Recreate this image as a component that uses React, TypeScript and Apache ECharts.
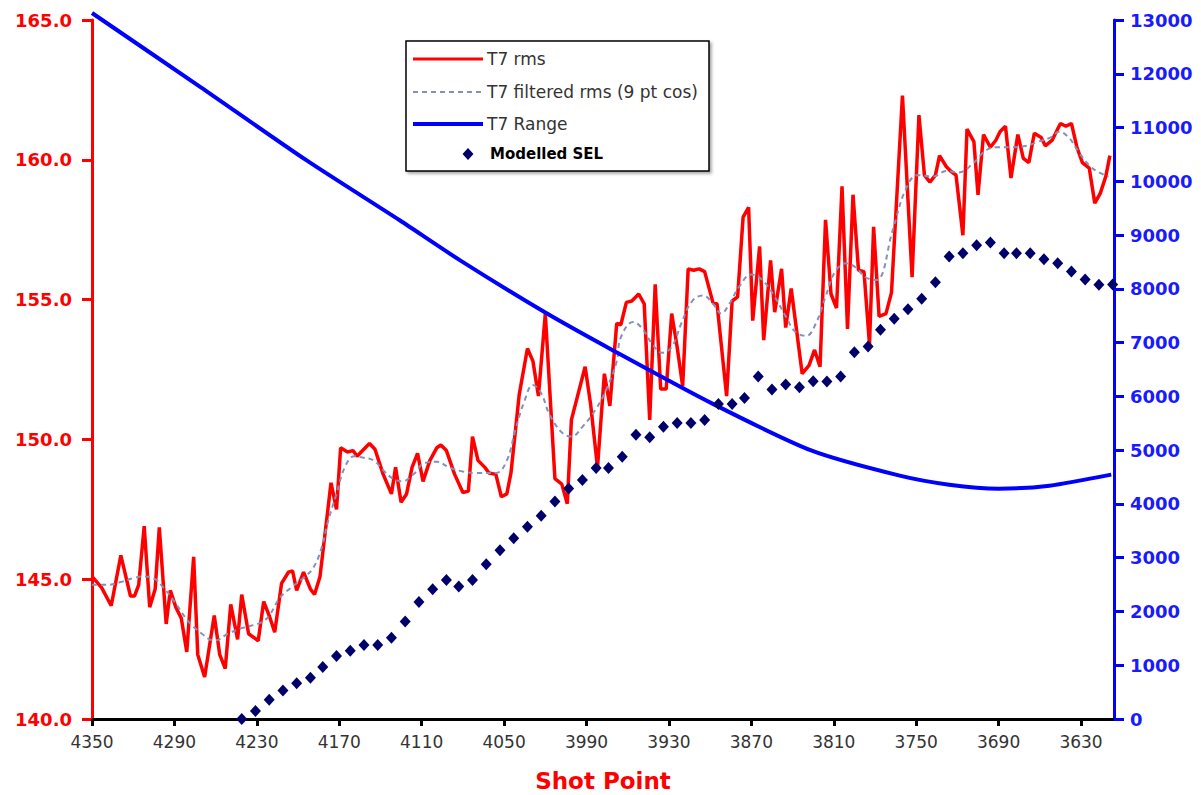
import React, { useEffect, useRef } from 'react';
import * as echarts from 'echarts';

// X-axis tick labels (shot points)
const xTicks = [4350, 4290, 4230, 4170, 4110, 4050, 3990, 3930, 3870, 3810, 3750, 3690, 3630];

// Legend entries
const legendNames = ['T7 rms', 'T7 filtered rms (9 pt cos)', 'T7 Range', 'Modelled SEL'];

// T7 rms: [shot point, dB]
const rmsData: [number, number][] = [
  [4350, 145.1], [4343, 144.7], [4336, 144.05], [4329, 145.85], [4322, 144.4], [4319, 144.4], [4316, 144.8],
  [4312, 146.9], [4308, 144.0], [4304, 144.65], [4301, 146.85], [4296, 143.4], [4293, 144.6], [4289, 144.0],
  [4285, 143.6], [4281, 142.4], [4276, 145.8], [4273, 142.3], [4268, 141.5], [4261, 143.7], [4257, 142.3],
  [4253, 141.8], [4249, 144.1], [4244, 142.85], [4241, 144.45], [4236, 143.05], [4229, 142.8], [4225, 144.2],
  [4221, 143.7], [4217, 143.1], [4212, 144.85], [4207, 145.25], [4204, 145.3], [4201, 144.6], [4196, 145.25],
  [4191, 144.65], [4188, 144.45], [4184, 145.1], [4176, 148.45], [4172, 147.5], [4169, 149.7], [4164, 149.55],
  [4160, 149.6], [4157, 149.4], [4153, 149.6], [4148, 149.85], [4144, 149.65], [4138, 148.75], [4132, 148.05],
  [4129, 149.0], [4125, 147.75], [4121, 148.05], [4117, 149.0], [4113, 149.5], [4109, 148.5], [4104, 149.25],
  [4099, 149.7], [4096, 149.8], [4092, 149.6], [4086, 148.75], [4080, 148.1], [4076, 148.15], [4073, 150.1],
  [4069, 149.25], [4064, 149.0], [4061, 148.8], [4056, 148.75], [4052, 147.95], [4048, 148.05], [4045, 148.8],
  [4039, 151.6], [4033, 153.25], [4029, 152.8], [4025, 151.55], [4020, 154.5], [4013, 148.6], [4008, 148.4],
  [4004, 147.7], [4001, 150.7], [3991, 152.6], [3987, 151.25], [3982, 149.0], [3977, 152.35], [3973, 151.2],
  [3968, 154.15], [3965, 154.1], [3961, 154.9], [3957, 154.95], [3952, 155.2], [3948, 154.85], [3944, 150.7],
  [3940, 155.55], [3936, 151.8], [3932, 151.8], [3928, 154.5], [3924, 153.3], [3920, 151.9], [3916, 156.1],
  [3912, 156.05], [3908, 156.1], [3904, 156.0], [3898, 154.9], [3895, 154.85], [3888, 151.55], [3884, 154.95],
  [3880, 155.1], [3876, 157.95], [3872, 158.3], [3869, 154.25], [3864, 156.9], [3861, 153.55], [3856, 156.4],
  [3853, 154.55], [3848, 156.1], [3845, 154.0], [3841, 155.4], [3833, 152.35], [3828, 152.65], [3824, 153.2],
  [3820, 152.6], [3816, 157.85], [3812, 155.2], [3808, 154.7], [3804, 159.05], [3800, 153.95], [3796, 158.75],
  [3792, 156.05], [3788, 156.0], [3784, 153.4], [3781, 157.6], [3777, 154.4], [3772, 154.5], [3768, 155.25],
  [3760, 162.3], [3753, 155.8], [3748, 161.6], [3744, 159.45], [3740, 159.2], [3736, 159.45], [3733, 160.15],
  [3728, 159.75], [3725, 159.6], [3721, 159.45], [3716, 157.3], [3713, 161.1], [3708, 160.65], [3705, 158.75],
  [3701, 160.9], [3696, 160.45], [3692, 160.7], [3689, 161.0], [3685, 161.2], [3681, 159.35], [3676, 160.9],
  [3672, 160.05], [3668, 159.9], [3664, 160.95], [3659, 160.8], [3656, 160.5], [3651, 160.7], [3647, 161.1],
  [3645, 161.3], [3641, 161.2], [3637, 161.3], [3633, 160.45], [3629, 159.9], [3624, 159.7], [3620, 158.45],
  [3616, 158.8], [3612, 159.4], [3609, 160.15],
];

// T7 filtered rms (9 pt cos): [shot point, dB]
const filteredData: [number, number][] = [
  [4350, 144.8], [4338, 144.8], [4329, 144.9], [4319, 145.05], [4312, 145.1], [4304, 145.0], [4298, 144.7],
  [4290, 144.2], [4280, 143.5], [4270, 143.05], [4261, 142.8], [4251, 143.05], [4241, 143.25], [4227, 143.45],
  [4221, 143.7], [4213, 144.35], [4205, 144.7], [4196, 145.05], [4189, 145.4], [4183, 146.1], [4178, 147.1],
  [4172, 148.05], [4166, 149.0], [4159, 149.4], [4153, 149.35], [4145, 149.25], [4138, 148.9], [4131, 148.6],
  [4124, 148.5], [4116, 148.75], [4108, 149.15], [4099, 149.2], [4090, 149.0], [4080, 148.85], [4070, 148.8],
  [4056, 148.8], [4048, 149.25], [4042, 150.3], [4035, 151.4], [4029, 151.95], [4023, 151.65], [4017, 150.9],
  [4008, 150.25], [4001, 150.1], [3993, 150.45], [3983, 151.1], [3975, 151.85], [3968, 152.8], [3965, 153.65],
  [3956, 154.2], [3950, 154.0], [3942, 153.4], [3935, 153.1], [3928, 153.3], [3921, 154.15], [3913, 154.95],
  [3905, 155.15], [3898, 154.85], [3892, 154.5], [3886, 154.85], [3879, 155.45], [3870, 155.9], [3862, 155.7],
  [3853, 155.1], [3845, 154.4], [3838, 153.85], [3830, 153.7], [3823, 154.15], [3816, 155.1], [3809, 156.0],
  [3801, 156.3], [3794, 156.15], [3787, 155.8], [3779, 155.7], [3767, 157.5], [3758, 158.9], [3749, 159.45],
  [3738, 159.4], [3728, 159.6], [3719, 159.55], [3709, 159.85], [3699, 160.35], [3690, 160.45], [3680, 160.45],
  [3670, 160.5], [3661, 160.65], [3652, 160.8], [3646, 161.0], [3639, 160.8], [3632, 160.3], [3624, 159.8],
  [3617, 159.55], [3610, 159.4],
];

// T7 Range: [shot point, metres]
const rangeData: [number, number][] = [
  [4350, 13130], [4271, 11752], [4194, 10393], [4126, 9275], [4082, 8530], [4020, 7560], [3971, 6860],
  [3898, 5861], [3826, 4991], [3762, 4526], [3726, 4358], [3690, 4284], [3653, 4340], [3608, 4545],
];

// Modelled SEL
const selShots = [
  4241, 4231, 4221, 4211, 4201, 4191, 4182, 4172, 4162, 4152, 4142,
  4132, 4122, 4112, 4102, 4092, 4083, 4073, 4063, 4053, 4043, 4033,
  4023, 4013, 4003, 3993, 3983, 3974, 3964, 3954, 3944, 3934, 3924,
  3914, 3904, 3894, 3884, 3875, 3865, 3855, 3845, 3835, 3825, 3815,
  3805, 3795, 3785, 3776, 3766, 3756, 3746, 3736, 3726, 3716, 3706,
  3696, 3686, 3677, 3667, 3657, 3647, 3637, 3627, 3617, 3607,
];
const selValues = [
  0, 150, 360, 530, 665, 768, 967, 1172, 1270, 1377, 1377,
  1513, 1811, 2178, 2415, 2586, 2462, 2586, 2879, 3140, 3360, 3575,
  3780, 4046, 4288, 4444, 4668, 4668, 4878, 5288, 5238, 5437, 5506,
  5506, 5562, 5860, 5860, 5972, 6368, 6126, 6219, 6169, 6281, 6275,
  6368, 6821, 6927, 7238, 7445, 7621, 7815, 8124, 8603, 8664, 8813,
  8863, 8664, 8664, 8664, 8552, 8478, 8323, 8174, 8075, 8081,
];

const FONT = 'DejaVu Sans';
const RED = '#ff0000';
const FILT = '#8390b8';
const BLUE = '#0000ff';
const NAVY = '#00006b';

function buildLegend() {
  const bx = 406, by = 41, bw = 303, bh = 130;
  const lx0 = 413, lx1 = 483, tx = 487;
  const rows = [59, 92, 124, 154];
  const children: any[] = [
    {
      type: 'rect',
      shape: { x: bx, y: by, width: bw, height: bh },
      style: {
        fill: '#fff', stroke: '#000', lineWidth: 1.5,
        shadowColor: 'rgba(0,0,0,0.35)', shadowBlur: 3, shadowOffsetX: 2, shadowOffsetY: 2,
      },
    },
    { type: 'line', shape: { x1: lx0, y1: rows[0], x2: lx1, y2: rows[0] }, style: { stroke: RED, lineWidth: 3 } },
    { type: 'line', shape: { x1: lx0, y1: rows[1], x2: lx1, y2: rows[1] }, style: { stroke: FILT, lineWidth: 2, lineDash: [5, 4] } },
    { type: 'line', shape: { x1: lx0, y1: rows[2], x2: lx1, y2: rows[2] }, style: { stroke: BLUE, lineWidth: 4 } },
    {
      type: 'polygon',
      shape: { points: [[468, rows[3] - 6], [473.5, rows[3]], [468, rows[3] + 6], [462.5, rows[3]]] },
      style: { fill: NAVY },
    },
  ];
  legendNames.forEach((name, i) => {
    const bold = i === 3;
    children.push({
      type: 'text',
      x: bold ? 490 : tx,
      y: rows[i],
      style: {
        text: name,
        fontFamily: FONT,
        fontSize: bold ? 15 : 17,
        fontWeight: bold ? 'bold' : 'normal',
        fill: bold ? '#000' : '#333',
        verticalAlign: 'middle',
        align: 'left',
      },
    });
  });
  return [{ type: 'group', z: 100, children }];
}

export default function App() {
  const ref = useRef<HTMLDivElement>(null);

  useEffect(() => {
    const chart = echarts.init(ref.current as HTMLDivElement, null, { renderer: 'svg' });
    const option: any = {
      animation: false,
      backgroundColor: '#ffffff',
      grid: { left: 92, right: 87, top: 20, bottom: 76, containLabel: false, outerBoundsMode: 'none' },
      graphic: buildLegend(),
      xAxis: {
        type: 'value',
        inverse: true,
        min: 3606,
        max: 4350,
        axisLine: { show: true, onZero: false, lineStyle: { color: '#000', width: 3 } },
        axisTick: { show: true, length: 7, lineStyle: { color: '#000', width: 3 }, customValues: xTicks },
        axisLabel: {
          customValues: xTicks,
          formatter: (v: number) => String(v),
          color: '#333',
          fontSize: 17,
          fontFamily: FONT,
          margin: 14,
        },
        splitLine: { show: false },
        name: 'Shot Point',
        nameLocation: 'middle',
        nameGap: 50,
        nameTextStyle: { color: RED, fontSize: 23, fontWeight: 'bold', fontFamily: FONT },
      },
      yAxis: [
        {
          type: 'value',
          position: 'left',
          min: 140,
          max: 165,
          interval: 5,
          axisLine: { show: true, onZero: false, lineStyle: { color: RED, width: 3 } },
          axisTick: { show: true, length: 10, lineStyle: { color: RED, width: 3 } },
          axisLabel: {
            formatter: (v: number) => v.toFixed(1),
            color: RED,
            fontWeight: 'bold',
            fontSize: 18,
            fontFamily: FONT,
            margin: 20,
          },
          splitLine: { show: false },
        },
        {
          type: 'value',
          position: 'right',
          min: 0,
          max: 13000,
          interval: 1000,
          axisLine: { show: true, onZero: false, lineStyle: { color: BLUE, width: 3 } },
          axisTick: { show: true, length: 10, lineStyle: { color: BLUE, width: 3 } },
          axisLabel: {
            formatter: (v: number) => String(v),
            color: '#1a1aff',
            fontWeight: 'bold',
            fontSize: 18,
            fontFamily: FONT,
            margin: 16,
          },
          splitLine: { show: false },
        },
      ],
      series: [
        {
          name: legendNames[0],
          type: 'line',
          yAxisIndex: 0,
          data: rmsData,
          symbol: 'none',
          lineStyle: { color: RED, width: 3.5 },
          itemStyle: { color: RED },
          z: 2,
        },
        {
          name: legendNames[1],
          type: 'line',
          yAxisIndex: 0,
          data: filteredData,
          symbol: 'none',
          smooth: 0.4,
          lineStyle: { color: FILT, width: 2, type: [5, 4] },
          itemStyle: { color: FILT },
          z: 3,
        },
        {
          name: legendNames[2],
          type: 'line',
          yAxisIndex: 1,
          data: rangeData,
          symbol: 'none',
          smooth: 0.25,
          clip: false,
          lineStyle: { color: BLUE, width: 4 },
          itemStyle: { color: BLUE },
          z: 4,
        },
        {
          name: legendNames[3],
          type: 'scatter',
          yAxisIndex: 1,
          data: selShots.map((s, i) => [s, selValues[i]]),
          symbol: 'diamond',
          symbolSize: [11, 12],
          clip: false,
          itemStyle: { color: NAVY, opacity: 1 },
          z: 5,
        },
      ],
    };
    chart.setOption(option);
    return () => chart.dispose();
  }, []);

  return (
    <div
      ref={ref}
      style={{ position: 'fixed', left: 0, top: 0, width: 1201, height: 795, background: '#fff' }}
    />
  );
}
